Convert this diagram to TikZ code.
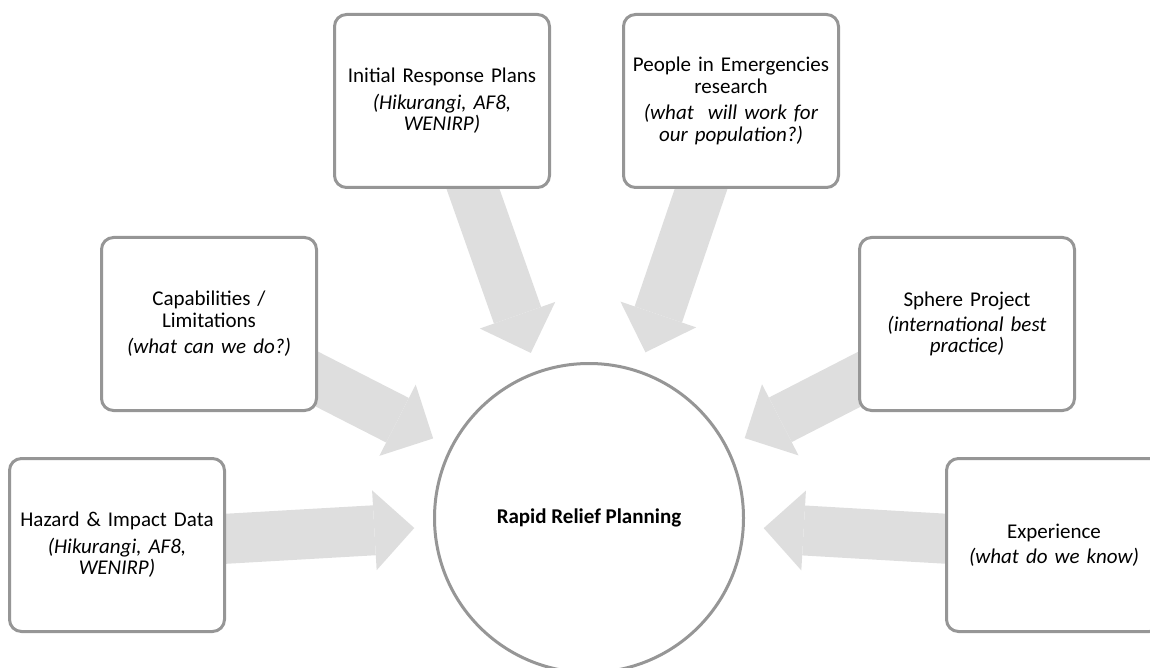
\documentclass[tikz,border=0pt]{standalone}
\usepackage{fontspec}
\setmainfont{Carlito}
\usetikzlibrary{arrows.meta, backgrounds}
\definecolor{boxline}{RGB}{150,150,150}
\definecolor{arrowfill}{RGB}{222,222,222}
\tikzset{
    infobox/.style={
        rectangle, rounded corners=12pt, draw=boxline, line width=3pt, fill=white,
        minimum width=215pt, minimum height=173pt, text width=207pt, align=center,
        font=\fontsize{21}{21.5}\selectfont
    },
    hub/.style={
        circle, draw=boxline, line width=3pt, fill=white,
        minimum size=309pt, font=\fontsize{21}{24}\selectfont\bfseries
    },
    feed/.style={
        draw=arrowfill, line width=50pt, shorten >=175pt,
        -{Triangle[length=40pt, width=80pt, line width=0pt]}
    }
}

\begin{document}
\begin{tikzpicture}[x=1pt, y=-1pt]
\useasboundingbox (0,0) rectangle (1150,668);
\clip (0,0) rectangle (1150,668);

% Centre
\node[hub] (rrp) at (589,518) {Rapid Relief Planning};

% Inputs, left to right
\node[infobox] (haz) at (117,545) {Hazard \& Impact Data\\[5pt] \textit{(Hikurangi, AF8,}\\ \textit{WENIRP)}};
\node[infobox] (cap) at (209,324) {Capabilities /\\ Limitations\\[5pt] \textit{(what can we do?)}};
\node[infobox] (irp) at (442,101) {Initial Response Plans\\[5pt] \textit{(Hikurangi, AF8,}\\ \textit{WENIRP)}};
\node[infobox] (pie) at (731,101) {People in Emergencies\\ research\\[5pt] \textit{(what\ \ will work for}\\ \textit{our population?)}};
\node[infobox] (sph) at (967,324) {Sphere Project\\[3pt] \textit{(international best}\\ \textit{practice)}};
\node[infobox] (exp) at (1054,545) {Experience\\[3pt] \textit{(what do we know)}};

% Feed arrows, behind the boxes
\begin{scope}[on background layer]
\foreach \src in {haz,cap,irp,pie,sph,exp}
    \draw[feed] (\src.center) -- (rrp.center);
\end{scope}

\end{tikzpicture}
\end{document}
